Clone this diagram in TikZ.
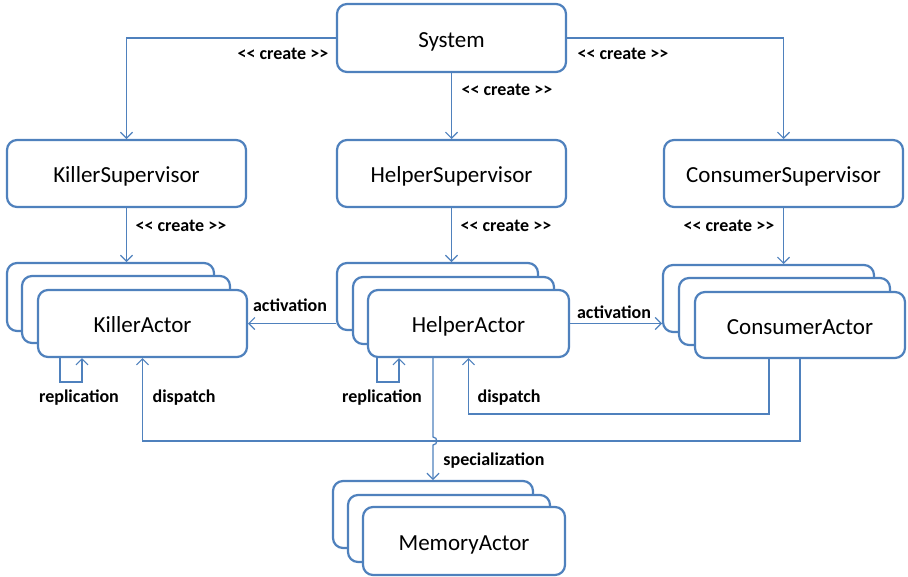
\documentclass[tikz,border=0pt]{standalone}
\usepackage{fontspec}
\setmainfont{Carlito}
\usetikzlibrary{arrows.meta}
\definecolor{lineblue}{RGB}{79,129,189}
\tikzset{
  box/.style={draw=lineblue, line width=2.2pt, rounded corners=10pt, fill=white,
    inner sep=0pt, outer sep=1pt, text height=18pt, text depth=0pt,
    font=\fontsize{23}{27}\selectfont},
  conn/.style={draw=lineblue, line width=1.3pt,
    -{Straight Barb[length=6pt,width=12pt,line width=1.2pt]}},
  lbl/.style={font=\bfseries\fontsize{18}{21}\selectfont, inner sep=0pt}
}
% stereotype text, with the angle brackets kept apart from each other
\newcommand{\createtag}{<{}< create >{}>}
\begin{document}
\begin{tikzpicture}[x=1pt,y=-1pt]
\useasboundingbox (0,0) rectangle (908,576);

% supervisors
\node[box, minimum width=229pt, minimum height=68pt] (sys) at (451.5,38) {System};
\node[box, minimum width=239pt, minimum height=67pt] (ks) at (126.5,173.5) {KillerSupervisor};
\node[box, minimum width=229pt, minimum height=67pt] (hs) at (451.5,173.5) {HelperSupervisor};
\node[box, minimum width=239pt, minimum height=67pt] (cs) at (783.5,173.5) {ConsumerSupervisor};

% actor stacks
\node[box, minimum width=207pt, minimum height=68pt] (kb) at (110.5,297) {};
\node[box, minimum width=208pt, minimum height=67pt] (km) at (126,309.5) {};
\node[box, minimum width=209pt, minimum height=67pt] (kf) at (142.5,323.5) {KillerActor};

\node[box, minimum width=201pt, minimum height=67pt] (hb) at (437.5,296.5) {};
\node[box, minimum width=201pt, minimum height=67pt] (hm) at (453.5,310.5) {};
\node[box, minimum width=201pt, minimum height=67pt] (hf) at (468.5,323.5) {HelperActor};

\node[box, minimum width=211pt, minimum height=67pt] (cb) at (768.5,298.5) {};
\node[box, minimum width=211pt, minimum height=67pt] (cm) at (784.5,311.5) {};
\node[box, minimum width=210pt, minimum height=66pt] (cf) at (800,325) {ConsumerActor};

\node[box, minimum width=200pt, minimum height=67pt] (mb) at (433,514.5) {};
\node[box, minimum width=202pt, minimum height=67pt] (mm) at (449,528.5) {};
\node[box, minimum width=202pt, minimum height=68pt] (mf) at (464,541) {MemoryActor};

% creation
\draw[conn] (sys.west) -| (ks.north);
\draw[conn] (sys.south) -- (hs.north);
\draw[conn] (sys.east) -| (cs.north);
\draw[conn] (ks.south) -- (ks.south |- kb.north);
\draw[conn] (hs.south) -- (hs.south |- hb.north);
\draw[conn] (cs.south) -- (cs.south |- cb.north);

% activation
\draw[conn] (hb.west |- kf.east) -- (kf.east);
\draw[conn] (hf.east) -- (hf.east -| cb.west);

% replication loops
\draw[conn] ([xshift=23pt]kf.south west) -- ++(0,24) -- ++(22,0) -- ([xshift=45pt]kf.south west);
\draw[conn] ([xshift=10pt]hf.south west) -- ++(0,24) -- ++(22,0) -- ([xshift=32pt]hf.south west);

% dispatch
\draw[conn] ([xshift=-31pt]cf.south) -- ++(0,55) -| (hf.south);
\draw[conn] (cf.south) -- ++(0,82) -| (kf.south);

% specialization, hopping over the dispatch line
\draw[conn] (hf.south -| mb.north) -- ++(0,79)
  .. controls +(5,0) and +(5,0) .. ++(0,8) -- (mb.north);

% labels
\node[lbl] (l1) at (283,54) {\createtag};
\node[lbl] (l2) at (507,90) {\createtag};
\node[lbl] (l3) at (623,54) {\createtag};
\node[lbl] (l4) at (181,226) {\createtag};
\node[lbl] (l5) at (506,226) {\createtag};
\node[lbl] (l6) at (729,226) {\createtag};
\node[lbl] (l7) at (290,305) {activation};
\node[lbl] (l8) at (614,312) {activation};
\node[lbl] (l9) at (79,398) {replication};
\node[lbl] (l10) at (184,398) {dispatch};
\node[lbl] (l11) at (382,398) {replication};
\node[lbl] (l12) at (509,398) {dispatch};
\node[lbl] (l13) at (494,461) {specialization};
\end{tikzpicture}
\end{document}
